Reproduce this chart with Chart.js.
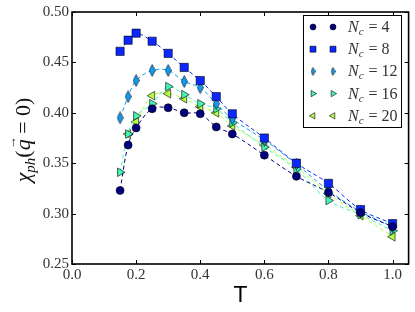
<!DOCTYPE html>
<html>
<head>
<meta charset="utf-8">
<script src="https://cdn.jsdelivr.net/npm/chart.js@4.4.0/dist/chart.umd.min.js"></script>
<style>
  html, body { margin: 0; padding: 0; background: #fff; }
  canvas { display: block; }
</style>
</head>
<body>
<canvas id="myChart" width="415" height="312"></canvas>
<script>
'use strict';

// temperatures on the x axis
const temps = [0.15, 0.175, 0.2, 0.25, 0.3, 0.35, 0.4, 0.45, 0.5, 0.6, 0.7, 0.8, 0.9, 1.0];

// chi_ph(q=0) for each cluster size
const nc4  = [0.323, 0.368, 0.385, 0.404, 0.405, 0.400, 0.399, 0.386, 0.379, 0.358, 0.337, 0.321, 0.301, 0.287];
const nc8  = [0.461, 0.472, 0.479, 0.471, 0.459, 0.445, 0.432, 0.416, 0.399, 0.375, 0.350, 0.330, 0.304, 0.290];
const nc12 = [0.395, 0.416, 0.432, 0.442, 0.442, 0.431, 0.425, 0.409, 0.394, 0.373, 0.349, 0.323, 0.302, 0.287];
const nc16 = [0.341, 0.379, 0.397, 0.409, 0.426, 0.418, 0.409, 0.404, 0.390, 0.366, 0.344, 0.313, 0.299, 0.283];
const nc20 = [null, 0.379, 0.391, 0.417, 0.419, 0.414, 0.406, 0.400, 0.387, 0.368, 0.346, 0.320, 0.298, 0.277];

const clusterSizes = ['4', '8', '12', '16', '20'];
const xTicks = [0.0, 0.2, 0.4, 0.6, 0.8, 1.0];
const yTicks = [0.25, 0.30, 0.35, 0.40, 0.45, 0.50];

const colors = ['#000080', '#0a28ff', '#109cf0', '#44f6b4', '#b4fc44'];

function makeDiamond(color, w, h) {
  const c = document.createElement('canvas');
  c.width = w; c.height = h;
  const g = c.getContext('2d');
  g.beginPath();
  g.moveTo(w / 2, 0.5);
  g.lineTo(w - 0.5, h / 2);
  g.lineTo(w / 2, h - 0.5);
  g.lineTo(0.5, h / 2);
  g.closePath();
  g.fillStyle = color;
  g.fill();
  g.lineWidth = 0.6;
  g.strokeStyle = '#000';
  g.stroke();
  return c;
}

const markers = [
  { style: 'circle', radius: 4, rot: 0 },
  { style: 'rect', radius: 5.8, rot: 0 },
  { style: makeDiamond(colors[2], 7, 13), radius: 5, rot: 0 },
  { style: 'triangle', radius: 5, rot: 90 },
  { style: 'triangle', radius: 5, rot: -90 }
];
const legendMarkers = [
  { style: 'circle', radius: 3, rot: 0 },
  { style: 'rect', radius: 4.2, rot: 0 },
  { style: makeDiamond(colors[2], 5, 9), radius: 4, rot: 0 },
  { style: 'triangle', radius: 3.6, rot: 90 },
  { style: 'triangle', radius: 3.6, rot: -90 }
];

const series = [nc4, nc8, nc12, nc16, nc20];

function toPoints(values) {
  let pts = [];
  for (let i = 0; i < temps.length; i++) {
    if (values[i] !== null) pts.push({ x: temps[i], y: values[i] });
  }
  return pts;
}

let datasets = [];
for (let i = 0; i < series.length; i++) {
  datasets.push({
    label: 'Nc = ' + clusterSizes[i],
    data: toPoints(series[i]),
    borderColor: colors[i],
    backgroundColor: colors[i],
    borderWidth: 1,
    borderDash: [4, 3],
    tension: 0.35,
    pointStyle: markers[i].style,
    pointRadius: markers[i].radius,
    pointRotation: markers[i].rot,
    pointBackgroundColor: colors[i],
    pointBorderColor: '#000',
    pointBorderWidth: 0.6
  });
}

const serif = "'Liberation Serif', 'DejaVu Serif', serif";

// frame, inward ticks, axis titles and legend
const decorations = {
  id: 'decorations',
  afterDraw(chart) {
    const ctx = chart.ctx;
    const a = chart.chartArea;
    const xs = chart.scales.x;
    const ys = chart.scales.y;
    ctx.save();

    ctx.strokeStyle = '#000';
    ctx.lineWidth = 1;
    xTicks.forEach(v => {
      const px = Math.round(xs.getPixelForValue(v)) + 0.5;
      ctx.beginPath();
      ctx.moveTo(px, a.bottom); ctx.lineTo(px, a.bottom - 4);
      ctx.moveTo(px, a.top); ctx.lineTo(px, a.top + 4);
      ctx.stroke();
    });
    yTicks.forEach(v => {
      const py = Math.round(ys.getPixelForValue(v)) + 0.5;
      ctx.beginPath();
      ctx.moveTo(a.left, py); ctx.lineTo(a.left + 4, py);
      ctx.moveTo(a.right, py); ctx.lineTo(a.right - 4, py);
      ctx.stroke();
    });
    ctx.lineWidth = 1.6;
    ctx.strokeRect(a.left, a.top, a.right - a.left, a.bottom - a.top);

    // x title
    ctx.fillStyle = '#000';
    ctx.font = "21px 'DejaVu Sans', sans-serif";
    ctx.textAlign = 'center';
    ctx.textBaseline = 'alphabetic';
    ctx.fillText('T', (a.left + a.right) / 2, 302);

    // y title: chi_ph(q = 0)
    ctx.translate(23, (a.top + a.bottom) / 2 + 2);
    ctx.rotate(-Math.PI / 2);
    const big = '22px ' + serif;
    const bigIt = 'italic 22px ' + serif;
    const sub = 'italic 15px ' + serif;
    const parts = [
      { t: '\u03C7', f: bigIt, dy: 0 },
      { t: 'ph', f: sub, dy: 5 },
      { t: '(', f: big, dy: 0 },
      { t: 'q', f: bigIt, dy: 0, arrow: true },
      { t: ' = ', f: big, dy: 0 },
      { t: '0', f: big, dy: 0 },
      { t: ')', f: big, dy: 0 }
    ];
    let total = 0;
    parts.forEach(p => { ctx.font = p.f; p.w = ctx.measureText(p.t).width; total += p.w; });
    let x = -total / 2;
    ctx.textAlign = 'left';
    ctx.fillStyle = '#111';
    parts.forEach(p => {
      ctx.font = p.f;
      ctx.fillText(p.t, x, 7 + p.dy);
      if (p.arrow) {
        ctx.font = '13px ' + serif;
        ctx.fillText('\u2192', x + 1, -7);
      }
      x += p.w;
    });
    ctx.setTransform(1, 0, 0, 1, 0, 0);

    // legend
    ctx.fillStyle = '#fff';
    ctx.fillRect(303, 15, 99, 112);
    ctx.lineWidth = 1;
    ctx.strokeStyle = '#000';
    ctx.strokeRect(303.5, 15.5, 98, 112);
    for (let i = 0; i < clusterSizes.length; i++) {
      const y = 27 + i * 22.2;
      const m = legendMarkers[i];
      [313, 333].forEach(mx => {
        ctx.fillStyle = colors[i];
        ctx.strokeStyle = '#000';
        ctx.lineWidth = 0.6;
        Chart.helpers.drawPoint(ctx, { pointStyle: m.style, radius: m.radius, rotation: m.rot, borderWidth: 0.6 }, mx, y);
      });
      ctx.fillStyle = '#333';
      ctx.textAlign = 'left';
      let tx = 348;
      ctx.font = 'italic 16px ' + serif;
      ctx.fillText('N', tx, y + 5);
      tx += ctx.measureText('N').width;
      ctx.font = 'italic 11px ' + serif;
      ctx.fillText('c', tx, y + 8);
      tx += ctx.measureText('c').width + 5;
      ctx.font = '16px ' + serif;
      ctx.fillText('= ' + clusterSizes[i], tx, y + 5);
    }
    ctx.restore();
  }
};

const ctx = document.getElementById('myChart').getContext('2d');
const myChart = new Chart(ctx, {
  type: 'line',
  data: { datasets: datasets },
  options: {
    responsive: false,
    animation: false,
    layout: { padding: { left: 0, right: 6, top: 9, bottom: 0 } },
    plugins: {
      legend: { display: false },
      tooltip: { enabled: false }
    },
    scales: {
      x: {
        type: 'linear',
        min: 0,
        max: 1.05,
        afterFit(scale) { scale.height = 48; },
        afterBuildTicks(scale) { scale.ticks = xTicks.map(v => ({ value: v })); },
        grid: { display: false, drawTicks: false },
        border: { display: false },
        ticks: {
          padding: 2,
          color: '#333',
          font: { family: serif, size: 15 },
          maxRotation: 0,
          callback: v => v.toFixed(1)
        }
      },
      y: {
        type: 'linear',
        min: 0.25,
        max: 0.5,
        afterFit(scale) { scale.width = 72; },
        afterBuildTicks(scale) { scale.ticks = yTicks.map(v => ({ value: v })); },
        grid: { display: false, drawTicks: false },
        border: { display: false },
        ticks: {
          padding: 3,
          color: '#333',
          font: { family: serif, size: 15 },
          callback: v => v.toFixed(2)
        }
      }
    }
  },
  plugins: [decorations]
});
</script>
</body>
</html>
